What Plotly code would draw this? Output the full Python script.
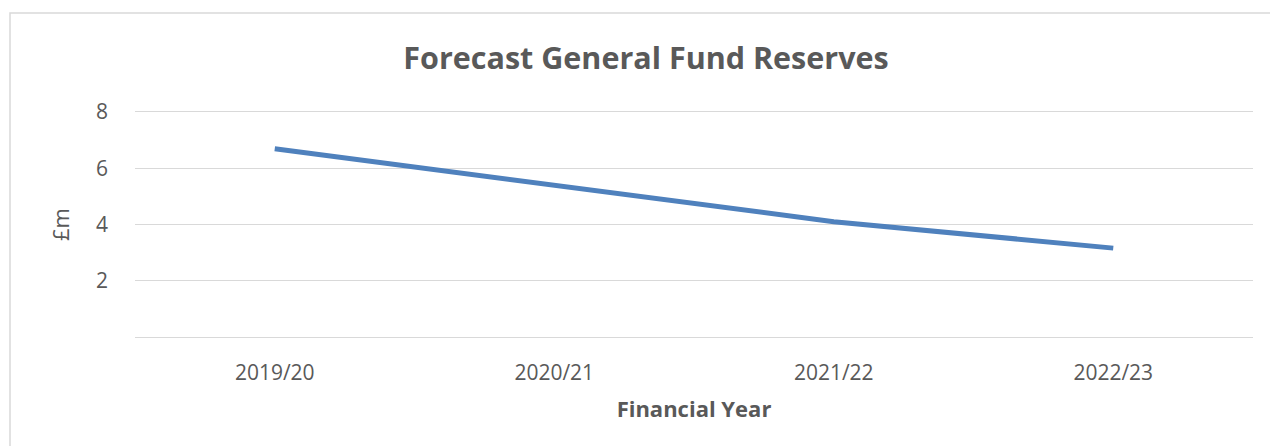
import plotly.graph_objects as go

categories = ["2019/20", "2020/21", "2021/22", "2022/23"]
reserves = [6.69, 5.41, 4.10, 3.16]
y_tickvals = [0, 2, 4, 6, 8]
y_ticktext = ["", "2", "4", "6", "8"]

font_family = "Open Sans, Liberation Sans, sans-serif"
text_color = "#595959"
grid_color = "#d9d9d9"

L, R, T, B = 135, 17, 112, 109
W, H = 1270, 446
PW, PH = W - L - R, H - T - B

fig = go.Figure()
fig.add_trace(go.Scatter(
    x=categories, y=reserves, mode="lines",
    line=dict(color="#4f81bd", width=5),
    hoverinfo="skip", showlegend=False,
))

fig.update_layout(
    width=W, height=H,
    margin=dict(l=L, r=R, t=T, b=B, autoexpand=False),
    paper_bgcolor="white", plot_bgcolor="white",
    title=dict(text="<b>Forecast General Fund Reserves</b>", x=646 / W, xanchor="center",
               y=1 - 58 / H, yanchor="middle",
               font=dict(family=font_family, size=30.5, color=text_color)),
    xaxis=dict(
        range=[-0.5, 3.5],
        showgrid=False, zeroline=False,
        showline=True, mirror=True, linecolor=grid_color, linewidth=1.3,
        tickfont=dict(family=font_family, size=21, color=text_color),
        ticklabelstandoff=17,
        title=dict(text="<b>Financial Year</b>", standoff=16,
                   font=dict(family=font_family, size=22, color=text_color)),
    ),
    yaxis=dict(
        range=[0, 8], tickvals=y_tickvals, ticktext=y_ticktext,
        showgrid=True, gridcolor=grid_color, gridwidth=1.3,
        zeroline=False, showline=False,
        tickfont=dict(family=font_family, size=21, color=text_color),
        ticklabelstandoff=26,
        title=dict(text="£m", standoff=20,
                   font=dict(family=font_family, size=22, color=text_color)),
    ),
    shapes=[dict(type="rect", xref="paper", yref="paper",
                 x0=(10 - L) / PW, x1=(W + 20 - L) / PW,
                 y0=-(H + 20 - (T + PH)) / PH, y1=(T + PH - 13) / PH,
                 line=dict(color=grid_color, width=1.5), fillcolor="rgba(0,0,0,0)", layer="below")],
)

fig.write_html("out.html")
